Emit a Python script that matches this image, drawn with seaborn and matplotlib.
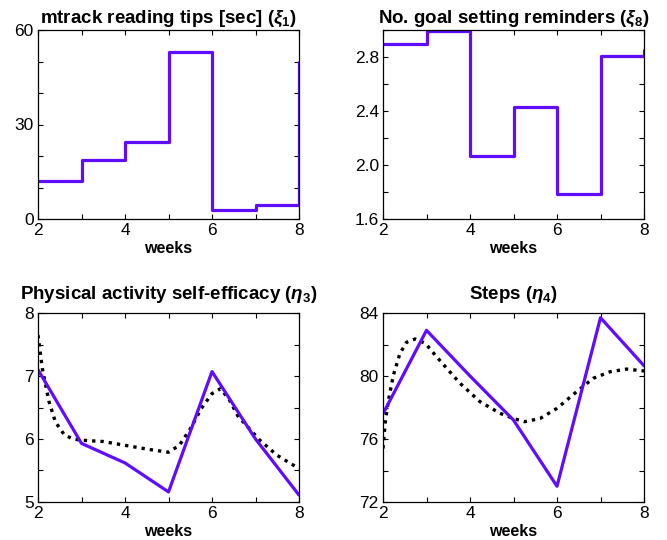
import numpy as np
import pandas as pd
import matplotlib
matplotlib.use("Agg")
import matplotlib.pyplot as plt
from matplotlib.ticker import MultipleLocator
import seaborn as sns

# ---- data ----
weeks = [2, 3, 4, 5, 6, 7, 8]

# step series (value held from week i to i+1)
tips_sec = [12.1, 18.7, 24.3, 53.1, 2.7, 4.3, 49.7]
goal_reminders = [2.90, 2.99, 2.07, 2.43, 1.785, 2.81, 2.85]

# observed series
self_efficacy = [7.10, 5.93, 5.62, 5.16, 7.07, 6.00, 5.11]
steps_obs = [77.6, 82.9, 80.0, 77.2, 73.0, 83.7, 80.65]

# model fit (dotted)
se_fit_x = [2.0, 2.1, 2.25, 2.4, 2.6, 2.8, 3.0, 3.5, 4.0, 4.5, 5.0, 5.25, 5.5,
            5.75, 6.0, 6.2, 6.4, 6.6, 7.1, 7.5, 8.0]
se_fit_y = [7.65, 7.12, 6.60, 6.27, 6.07, 6.00, 5.98, 5.96, 5.90, 5.84, 5.79,
            5.90, 6.16, 6.48, 6.72, 6.80, 6.62, 6.36, 5.98, 5.74, 5.53]

st_fit_x = [2.0, 2.05, 2.12, 2.24, 2.39, 2.54, 2.74, 2.97, 3.23, 3.5, 3.77,
            4.23, 4.69, 5.0, 5.26, 5.61, 6.0, 6.45, 6.83, 7.22, 7.6, 8.0]
st_fit_y = [75.4, 77.0, 78.4, 80.06, 81.44, 82.14, 82.35, 82.08, 81.23, 80.38,
            79.54, 78.37, 77.63, 77.3, 77.1, 77.3, 77.95, 79.0, 79.85, 80.27,
            80.44, 80.32]

titles = [r"mtrack reading tips [sec] ($\mathit{\xi_{1}}$)",
          r"No. goal setting reminders ($\mathit{\xi_{8}}$)",
          r"Physical activity self-efficacy ($\mathit{\eta_{3}}$)",
          r"Steps ($\mathit{\eta_{4}}$)"]

PURPLE = "#5f0cff"

# ---- style ----
sns.set_theme(style="white")
plt.rcParams["font.family"] = ["Liberation Sans", "DejaVu Sans"]
plt.rcParams["mathtext.fontset"] = "custom"
plt.rcParams["mathtext.rm"] = "Liberation Sans:bold"
plt.rcParams["mathtext.it"] = "Liberation Sans:italic:bold"
plt.rcParams["mathtext.bf"] = "Liberation Sans:bold"

fig = plt.figure(figsize=(6.67, 5.40), dpi=100)
W, H = 667, 540

def make_ax(left, top, right, bottom):
    return fig.add_axes([left / W, 1 - bottom / H, (right - left) / W, (bottom - top) / H])

ax1 = make_ax(38, 30, 299, 219)
ax2 = make_ax(383, 30, 644, 219)
ax3 = make_ax(38, 313, 299, 502)
ax4 = make_ax(383, 313, 644, 502)

df_steps = pd.DataFrame({"week": weeks, "tips": tips_sec, "goal": goal_reminders,
                         "se": self_efficacy, "steps": steps_obs})
df_se_fit = pd.DataFrame({"week": se_fit_x, "fit": se_fit_y})
df_st_fit = pd.DataFrame({"week": st_fit_x, "fit": st_fit_y})

lw = 2.3
sns.lineplot(data=df_steps, x="week", y="tips", ax=ax1, color=PURPLE, lw=lw,
             drawstyle="steps-post", sort=False)
sns.lineplot(data=df_steps, x="week", y="goal", ax=ax2, color=PURPLE, lw=lw,
             drawstyle="steps-post", sort=False)
sns.lineplot(data=df_se_fit, x="week", y="fit", ax=ax3, color="black", lw=2.4,
             linestyle=(0, (1, 1.5)), sort=False)
sns.lineplot(data=df_steps, x="week", y="se", ax=ax3, color=PURPLE, lw=lw, sort=False)
sns.lineplot(data=df_st_fit, x="week", y="fit", ax=ax4, color="black", lw=2.4,
             linestyle=(0, (1, 1.5)), sort=False)
sns.lineplot(data=df_steps, x="week", y="steps", ax=ax4, color=PURPLE, lw=lw, sort=False)

ylims = [(0, 60), (1.6, 3.0), (5, 8), (72, 84)]
majors = [30, 0.4, 1, 4]
minors = [10, 0.2, 0.5, 2]
fmts = ["{:.0f}", "{:.1f}", "{:.0f}", "{:.0f}"]
title_pads = [5, 5, 10, 10]

for ax, title, yl, mj, mn, fmt, tp in zip([ax1, ax2, ax3, ax4], titles, ylims, majors,
                                          minors, fmts, title_pads):
    ax.set_xlim(2, 8)
    ax.set_ylim(*yl)
    ax.xaxis.set_major_locator(MultipleLocator(2))
    ax.xaxis.set_minor_locator(MultipleLocator(1))
    ax.yaxis.set_major_locator(MultipleLocator(mj))
    ax.yaxis.set_minor_locator(MultipleLocator(mn))
    ax.yaxis.set_major_formatter(matplotlib.ticker.FuncFormatter(lambda v, p, f=fmt: f.format(v)))
    ax.tick_params(which="both", direction="in", top=True, right=True,
                   bottom=True, left=True, length=3.5, width=0.8, color="black",
                   labelsize=12.5, labelcolor="black", pad=3)
    ax.tick_params(axis="x", pad=3)
    for s in ax.spines.values():
        s.set_visible(True)
        s.set_color("black")
        s.set_linewidth(0.9)
    ax.set_title(title, fontsize=13.5, fontweight="bold", color="black", pad=tp)
    ax.set_xlabel("weeks", fontsize=11.5, fontweight="bold", color="black", labelpad=2)
    ax.set_ylabel("")
    ax.grid(False)
    ax.set_facecolor("white")

fig.savefig("out.png", dpi=100, facecolor="white")
